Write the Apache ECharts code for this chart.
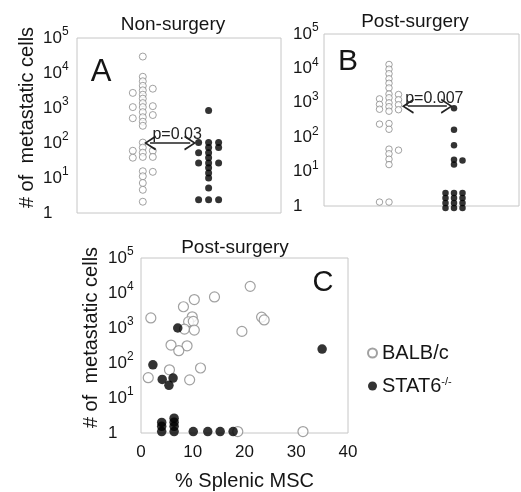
<!DOCTYPE html>
<html><head><meta charset="utf-8">
<script src="https://cdn.jsdelivr.net/npm/echarts@6/dist/echarts.min.js"></script>
<style>html,body{margin:0;padding:0;background:#fff}#c{width:521px;height:492px}</style>
</head><body><div id="c"></div>
<script>
// ---------- data ----------
const groupNames = ['BALB/c', 'STAT6-/-'];
const panelTitles = ['Non-surgery', 'Post-surgery', 'Post-surgery'];
const panelLetters = ['A', 'B', 'C'];
const pValues = ['p=0.03', 'p=0.007'];
const xTicksC = [0, 10, 20, 30, 40];
// panel A: non-surgery, # metastatic cells
const nonSurgeryBALB = [29500, 7800, 5800, 4300, 3560, 3200, 2700, 2400, 1850, 1380, 1130, 1060, 1060, 760, 630, 545, 510, 405, 310,
  103, 74, 60, 60, 53, 40, 40, 38, 15.6, 15, 11.2, 7.2, 4.6, 2.1];
const nonSurgerySTAT6 = [850, 103, 103, 103, 74, 74, 53, 53, 38, 27, 27, 27, 19.6, 14, 10, 5.2, 2.4, 2.4, 2.4];
// panel B: post-surgery
const postSurgeryBALB = [13000, 9500, 7000, 5000, 3700, 2700, 1800, 1740, 1400, 1300, 1230, 1000, 900, 880, 770, 650, 630, 570,
  250, 240, 170, 45, 42, 33, 23, 16, 1.3, 1.3];
const postSurgerySTAT6 = [700, 165, 58, 22, 21, 16, 2.4, 2.4, 2.4, 1.7, 1.7, 1.7, 1.22, 1.22, 1.22, 0.87, 0.87, 0.87];
// panel C: % splenic MSC vs # metastatic cells
const mscBALB_x = [1.9, 8.2, 10.3, 14.2, 21.1, 9.9, 9.2, 10.1, 8.4, 10.3, 23.3, 23.8, 19.5, 5.8, 8.9, 7.3, 11.5, 5.5, 1.4, 9.4, 18.7, 31.3];
const mscBALB_y = [1940, 4050, 6500, 7700, 15500, 2090, 1510, 1550, 930, 870, 2050, 1700, 800, 325, 310, 225, 72, 64, 38, 33, 1.1, 1.1];
const mscSTAT6_x = [7.1, 2.3, 35, 4.1, 6.2, 5.4, 4.0, 4.0, 4.0, 6.4, 6.4, 6.4, 6.4, 10.1, 12.9, 15.3, 17.8];
const mscSTAT6_y = [1000, 89, 250, 34, 37, 23, 2.0, 1.55, 1.1, 2.65, 2.04, 1.55, 1.1, 1.1, 1.1, 1.1, 1.1];
// p-value comparison arrows (group positions 1 and 2 on the x axis, at y level)
const arrowA = {from: 1.11, to: 1.72, y: 100};
const arrowB = {from: 1.29, to: 1.89, y: 800};

// ---------- styling ----------
const FONT = 'Liberation Sans, Arial, Helvetica, sans-serif';
const TXT = '#151515';
const BOX = '#c6c6c6';
const OPEN = '#8a8a8a';

// simple beeswarm: assign lanes so stacked points do not coincide
function swarm(vals, decadePx, gapPx) {
  const order = vals.map((v, i) => i).sort((a, b) => vals[b] - vals[a]);
  const lanes = new Array(vals.length);
  const placed = {};
  for (const i of order) {
    const p = Math.log10(vals[i]) * decadePx;
    const free = l => (placed[l] || []).every(q => Math.abs(q - p) >= gapPx);
    let chosen = null;
    for (let k = 0; chosen === null; k++) {
      if (k === 0) { if (free(0)) chosen = 0; continue; }
      const c = [k, -k].filter(free);
      if (c.length) {
        c.sort((a, b) => (placed[a] || []).length - (placed[b] || []).length);
        chosen = c[0];
      }
    }
    (placed[chosen] = placed[chosen] || []).push(p);
    lanes[i] = chosen;
  }
  return lanes;
}
function swarmData(vals, xPos, decadePx, laneW) {
  const lanes = swarm(vals, decadePx, 3.5);
  return vals.map((v, i) => ({value: [xPos, v], symbolOffset: [lanes[i] * laneW, 0]}));
}

const logLabel = {
  show: true, align: 'left', color: TXT, fontFamily: FONT, fontSize: 17, lineHeight: 24,
  formatter: v => { const e = Math.round(Math.log10(v)); return e === 0 ? '1' : '10{s|' + e + '}'; },
  rich: {
    s: {fontSize: 12, lineHeight: 12, verticalAlign: 'top', color: TXT, fontFamily: FONT}
  }
};
function yLog(gi, margin, name, nameGap) {
  return {
    type: 'log', logBase: 10, min: 1, max: 100000, gridIndex: gi,
    axisLine: {show: false}, axisTick: {show: false}, splitLine: {show: false},
    axisLabel: Object.assign({}, logLabel, {margin: margin}),
    name: name, nameLocation: 'middle', nameRotate: 90, nameGap: nameGap,
    nameTextStyle: {fontSize: 20, color: TXT, fontFamily: FONT, padding: [0, 0, 0, 16]}
  };
}
const yName = '# of  metastatic cells';
const arrowHead = 'path://M0,10 L5,0 L10,10 L8.9,10.6 L5,2.6 L1.1,10.6 Z';
function pMark(arrow, text) {
  return {
    silent: true, symbol: [arrowHead, arrowHead], symbolSize: [15, 12],
    lineStyle: {color: '#222', width: 1.5, type: 'solid'},
    label: {show: true, formatter: text, position: 'insideMiddleTop', distance: 0,
      fontSize: 16, color: '#222', fontFamily: FONT, padding: [0, 0, 0, 14]},
    data: [[{coord: [arrow.from, arrow.y]}, {coord: [arrow.to, arrow.y]}]]
  };
}
const openStyle = {color: '#fff', borderColor: OPEN, borderWidth: 1};
const fillStyle = {color: '#000'};

const option = {
  animation: false,
  backgroundColor: '#fff',
  textStyle: {fontFamily: FONT},
  grid: [
    {left: 77, top: 38, width: 204, height: 175, show: true, borderColor: BOX, borderWidth: 1, containLabel: false},
    {left: 324, top: 34, width: 195, height: 172, show: true, borderColor: BOX, borderWidth: 1, containLabel: false},
    {left: 141, top: 258, width: 207, height: 177, show: true, borderColor: BOX, borderWidth: 1, containLabel: false}
  ],
  xAxis: [
    {type: 'value', gridIndex: 0, min: 0, max: 3.1, show: true, axisLine: {show: false}, axisTick: {show: false}, axisLabel: {show: false}, splitLine: {show: false}},
    {type: 'value', gridIndex: 1, min: 0, max: 3, show: true, axisLine: {show: false}, axisTick: {show: false}, axisLabel: {show: false}, splitLine: {show: false}},
    {type: 'value', gridIndex: 2, min: xTicksC[0], max: xTicksC[xTicksC.length - 1], interval: 10,
      axisLine: {show: false}, axisTick: {show: false}, splitLine: {show: false},
      axisLabel: {fontSize: 17, color: TXT, margin: 11, fontFamily: FONT},
      name: '% Splenic MSC', nameLocation: 'middle', nameGap: 38,
      nameTextStyle: {fontSize: 20, color: TXT, fontFamily: FONT}}
  ],
  yAxis: [
    yLog(0, 34, yName, 40),
    yLog(1, 31, '', 40),
    yLog(2, 33, yName, 40)
  ],
  legend: {
    orient: 'vertical', left: 362, top: 338, itemWidth: 9, itemHeight: 9, itemGap: 13,
    selectedMode: false, data: groupNames,
    formatter: n => n === 'STAT6-/-' ? 'STAT6{sup|-/-}' : n,
    textStyle: {fontSize: 20, color: TXT, fontFamily: FONT,
      rich: {sup: {fontSize: 11, lineHeight: 11, verticalAlign: 'top', color: TXT, fontFamily: FONT}}}
  },
  graphic: [
    {type: 'text', x: 173, y: 25, style: {text: panelTitles[0], font: '19px ' + FONT, fill: TXT, align: 'center', verticalAlign: 'middle'}},
    {type: 'text', x: 415, y: 22, style: {text: panelTitles[1], font: '19px ' + FONT, fill: TXT, align: 'center', verticalAlign: 'middle'}},
    {type: 'text', x: 235, y: 248, style: {text: panelTitles[2], font: '19px ' + FONT, fill: TXT, align: 'center', verticalAlign: 'middle'}},
    {type: 'text', x: 101, y: 72, style: {text: panelLetters[0], font: '31px ' + FONT, fill: TXT, align: 'center', verticalAlign: 'middle'}},
    {type: 'text', x: 348, y: 62, style: {text: panelLetters[1], font: '30px ' + FONT, fill: TXT, align: 'center', verticalAlign: 'middle'}},
    {type: 'text', x: 323, y: 283, style: {text: panelLetters[2], font: '29px ' + FONT, fill: TXT, align: 'center', verticalAlign: 'middle'}}
  ],
  series: [
    {name: groupNames[0], type: 'scatter', xAxisIndex: 0, yAxisIndex: 0, symbol: 'circle', symbolSize: 7, clip: false,
      itemStyle: openStyle, data: swarmData(nonSurgeryBALB, 1, 35, 10), markLine: pMark(arrowA, pValues[0])},
    {name: groupNames[1], type: 'scatter', xAxisIndex: 0, yAxisIndex: 0, symbol: 'circle', symbolSize: 7, clip: false,
      itemStyle: fillStyle, data: swarmData(nonSurgerySTAT6, 2, 35, 10)},
    {name: groupNames[0], type: 'scatter', xAxisIndex: 1, yAxisIndex: 1, symbol: 'circle', symbolSize: 6.5, clip: false,
      itemStyle: openStyle, data: swarmData(postSurgeryBALB, 1, 34.4, 9.5), markLine: pMark(arrowB, pValues[1])},
    {name: groupNames[1], type: 'scatter', xAxisIndex: 1, yAxisIndex: 1, symbol: 'circle', symbolSize: 6.5, clip: false,
      itemStyle: fillStyle, data: swarmData(postSurgerySTAT6, 2, 34.4, 8.5)},
    {name: groupNames[0], type: 'scatter', xAxisIndex: 2, yAxisIndex: 2, symbol: 'circle', symbolSize: 10, clip: false,
      itemStyle: {color: '#fff', borderColor: OPEN, borderWidth: 1.2}, data: mscBALB_x.map((x, i) => [x, mscBALB_y[i]])},
    {name: groupNames[1], type: 'scatter', xAxisIndex: 2, yAxisIndex: 2, symbol: 'circle', symbolSize: 9.5, clip: false,
      itemStyle: fillStyle, data: mscSTAT6_x.map((x, i) => [x, mscSTAT6_y[i]])}
  ]
};
const chart = echarts.init(document.getElementById('c'), null, {renderer: 'canvas'});
chart.setOption(option);
</script></body></html>
